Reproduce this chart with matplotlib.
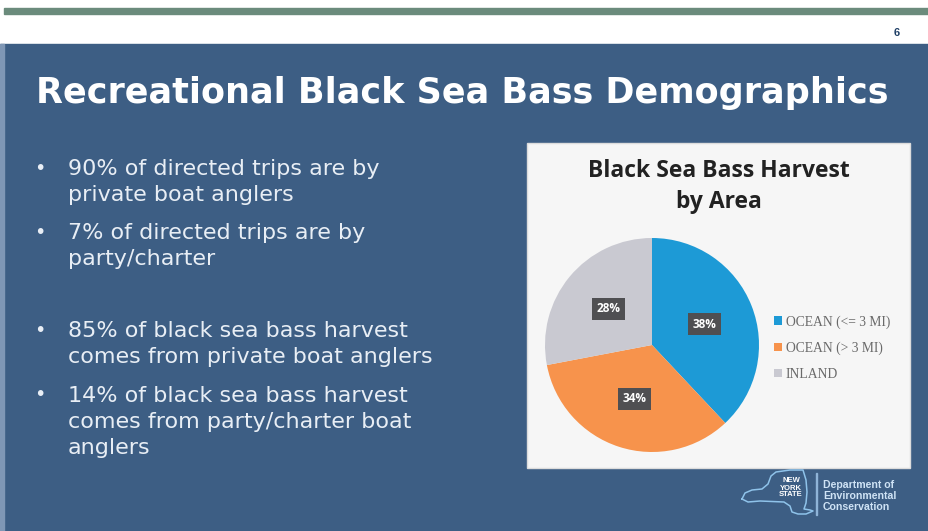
import matplotlib
matplotlib.use("Agg")
import matplotlib.pyplot as plt
from matplotlib.patches import Rectangle

# ---- data ----
areas = ["OCEAN (<= 3 MI)", "OCEAN (> 3 MI)", "INLAND"]
harvest_pct = [38, 34, 28]
slice_colors = ["#1d9ad6", "#f7934c", "#c9c9d1"]
chart_title_lines = ["Black Sea Bass Harvest", "by Area"]
slide_title = "Recreational Black Sea Bass Demographics"
bullets = [
    ["90% of directed trips are by", "private boat anglers"],
    ["7% of directed trips are by", "party/charter"],
    ["85% of black sea bass harvest", "comes from private boat anglers"],
    ["14% of black sea bass harvest", "comes from party/charter boat", "anglers"],
]
bullet_baselines = [175, 239, 337, 402]

W, H = 929, 531
fig = plt.figure(figsize=(W / 100, H / 100), dpi=100)
fig.patch.set_facecolor("white")

def fx(x):
    return x / W

def fy(y):
    return 1 - y / H

# background shapes
bg = fig.add_axes([0, 0, 1, 1])
bg.set_xlim(0, W)
bg.set_ylim(H, 0)
bg.axis("off")
bg.add_patch(Rectangle((0, 0), W, H, color="white"))
bg.add_patch(Rectangle((4, 8), W - 4, 6, color="#6b8b7c"))
bg.add_patch(Rectangle((0, 44), W, H - 44, color="#3d5e84"))
bg.add_patch(Rectangle((0, 44), 4, H - 44, color="#7f97b5"))
bg.add_patch(Rectangle((527, 143), 383, 325, facecolor="#f6f6f6", edgecolor="#dcdcdc", lw=1))
bg.add_patch(Rectangle((816, 473), 1.5, 42, color="#8fb4d8"))

# rough NY state outline (decoration)
ny_x = [742, 745, 752, 762, 768, 771, 776, 790, 803, 806, 807, 806, 804, 810, 813, 806, 798, 792, 790, 784, 760, 748, 742]
ny_y = [499, 493, 490, 489, 484, 476, 472, 470, 470, 480, 492, 503, 509, 510, 511, 514, 514, 512, 506, 502, 501, 502, 499]
bg.plot(ny_x, ny_y, color="#8fc3ea", lw=1.1)

fig.text(fx(897), fy(33), "6", color="#1f3f66", fontsize=8, fontweight="bold",
         ha="center", va="center", family="Liberation Sans")

fig.text(fx(36), fy(103), slide_title, color="white", fontsize=25.2, fontweight="bold",
         ha="left", va="baseline", family="DejaVu Sans")

for lines, base in zip(bullets, bullet_baselines):
    fig.text(fx(40), fy(base - 7), "\u2022", color="#e8eef5", fontsize=14, ha="center",
             va="center", family="DejaVu Sans")
    for i, line in enumerate(lines):
        fig.text(fx(68), fy(base + 26 * i), line, color="#e8eef5", fontsize=16,
                 ha="left", va="baseline", family="DejaVu Sans")

for i, line in enumerate(chart_title_lines):
    fig.text(fx(719), fy(177 + 31 * i), line, color="#222222", fontsize=16.5,
             fontweight="bold", ha="center", va="baseline", family="Open Sans")

# pie
cx, cy, r = 652, 345, 107
ax = fig.add_axes([fx(cx - r), fy(cy + r), 2 * r / W, 2 * r / H])
wedges, texts, autotexts = ax.pie(
    harvest_pct, colors=slice_colors, startangle=90, counterclock=False,
    autopct=lambda p: f"{p:.0f}%", pctdistance=0.53,
    wedgeprops=dict(linewidth=0), radius=1,
)
for t in autotexts:
    t.set_color("white")
    t.set_fontsize(8.5)
    t.set_fontweight("bold")
    t.set_family("Open Sans")
    t.set_bbox(dict(boxstyle="square,pad=0.4", facecolor="#4f4f52", edgecolor="none"))
ax.set_xlim(-1, 1)
ax.set_ylim(-1, 1)
ax.set_aspect("equal")
ax.axis("off")

leg = fig.legend(wedges, areas, loc="center left", bbox_to_anchor=(fx(762), fy(348)),
                 frameon=False, handlelength=0.55, handleheight=0.55,
                 handletextpad=0.3, labelspacing=0.95, labelcolor="#6a6a6a",
                 prop=dict(family="Liberation Serif", size=9.8))

fig.text(fx(791), fy(488), "NEW\nYORK\nSTATE", color="white", fontsize=5.5, fontweight="bold",
         ha="center", va="center", family="Liberation Sans", linespacing=1.0)
for i, line in enumerate(["Department of", "Environmental", "Conservation"]):
    fig.text(fx(823), fy(488 + 11 * i), line, color="#cfe3f5", fontsize=7.6,
             fontweight="bold", ha="left", va="baseline", family="Liberation Sans")

fig.savefig("out.png", dpi=100, facecolor=fig.get_facecolor())
